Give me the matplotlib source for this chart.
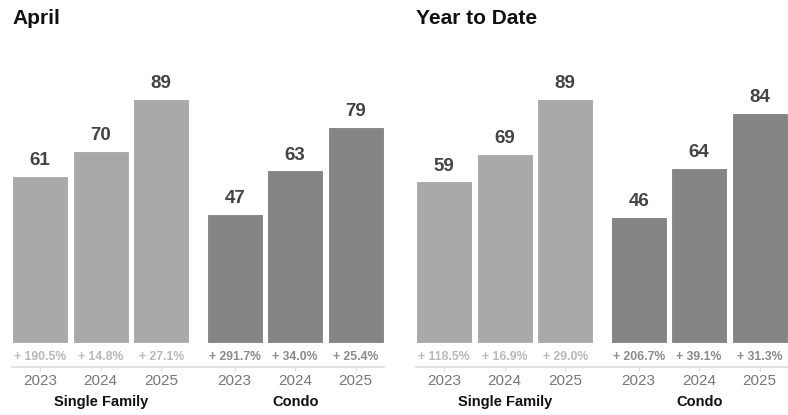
import numpy as np
import matplotlib.pyplot as plt
from matplotlib import transforms

plt.rcParams['font.family'] = ['Liberation Sans', 'DejaVu Sans']

years = ['2023', '2024', '2025']
groups = ['Single Family', 'Condo']

april_sf = [61, 70, 89]
april_condo = [47, 63, 79]
april_sf_pct = ['+ 190.5%', '+ 14.8%', '+ 27.1%']
april_condo_pct = ['+ 291.7%', '+ 34.0%', '+ 25.4%']

ytd_sf = [59, 69, 89]
ytd_condo = [46, 64, 84]
ytd_sf_pct = ['+ 118.5%', '+ 16.9%', '+ 29.0%']
ytd_condo_pct = ['+ 206.7%', '+ 39.1%', '+ 31.3%']

sf_color = '#a9a9a9'
condo_color = '#858585'

W, H = 788, 415
fig = plt.figure(figsize=(W / 100, H / 100), dpi=100)


def panel(left_px, title, sf, condo, sf_pct, condo_pct):
    unit = 60.5
    xlo, xhi = -0.465, 5.68
    ax = fig.add_axes([left_px / W, 1 - 343 / H, (xhi - xlo) * unit / W, 274 / H])
    sf_x = np.arange(3)
    condo_x = np.arange(3) + 3.215
    ax.bar(sf_x, sf, width=0.93, color=sf_color, edgecolor='white', linewidth=0.8)
    ax.bar(condo_x, condo, width=0.93, color=condo_color, edgecolor='white', linewidth=0.8)
    ax.set_xlim(xlo, xhi)
    ax.set_ylim(0, 100)

    for xs, vals in [(sf_x, sf), (condo_x, condo)]:
        for x, v in zip(xs, vals):
            ax.annotate(str(v), (x, v), xytext=(0, 11), textcoords='offset points',
                        ha='center', va='center', fontsize=13.5, fontweight='bold',
                        color='#444444')

    trans = transforms.blended_transform_factory(ax.transData, ax.transAxes)
    for xs, labels, c in [(sf_x, sf_pct, '#b8b8b8'), (condo_x, condo_pct, '#8a8a8a')]:
        for x, t in zip(xs, labels):
            ax.text(x, -0.051, t, transform=trans, ha='center', va='center',
                    fontsize=8.8, fontweight='bold', color=c)

    for x, g in [(sf_x.mean(), groups[0]), (condo_x.mean(), groups[1])]:
        ax.text(x, -0.215, g, transform=trans, ha='center', va='center',
                fontsize=10.5, fontweight='bold', color='#111111')

    for s in ['top', 'right', 'left']:
        ax.spines[s].set_visible(False)
    ax.spines['bottom'].set_position(('outward', 17.3))
    ax.spines['bottom'].set_color('#dddddd')
    ax.spines['bottom'].set_linewidth(1.2)
    ax.set_yticks([])
    ax.set_xticks(np.concatenate([sf_x, condo_x]))
    ax.set_xticklabels(years + years, fontsize=11, color='#777777')
    ax.tick_params(axis='x', length=3, color='#dddddd', pad=2)

    fig.text(left_px / W, 1 - 18 / H, title, ha='left', va='center', fontsize=15,
             fontweight='bold', family=['Liberation Sans Narrow', 'Liberation Sans'],
             color='#111111')
    return ax


panel(12, 'April', april_sf, april_condo, april_sf_pct, april_condo_pct)
panel(416, 'Year to Date', ytd_sf, ytd_condo, ytd_sf_pct, ytd_condo_pct)

fig.savefig('out.png', dpi=100)
